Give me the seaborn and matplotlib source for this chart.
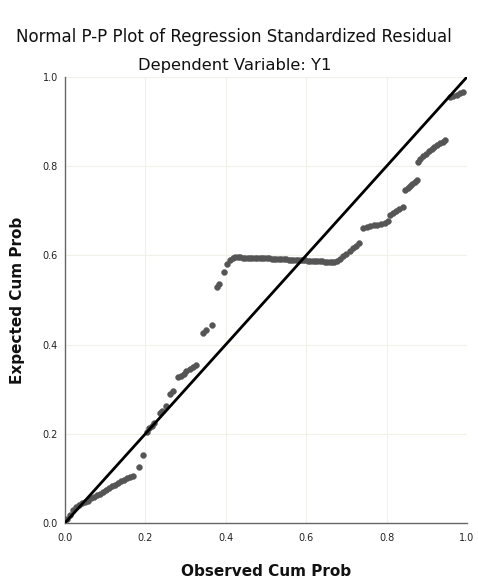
import numpy as np
import pandas as pd
import matplotlib
matplotlib.use("Agg")
import matplotlib.pyplot as plt
import seaborn as sns

# Observed cumulative probability (x) and expected cumulative probability (y)
observed = [
    0.005, 0.012, 0.020, 0.027, 0.035, 0.042, 0.050, 0.057, 0.065, 0.072,
    0.080, 0.087, 0.095, 0.102, 0.110, 0.117, 0.125, 0.132, 0.140, 0.147,
    0.155, 0.162, 0.170,
    0.184, 0.194,
    0.204, 0.210, 0.216, 0.222, 0.236, 0.242, 0.250, 0.261, 0.268, 0.281,
    0.288, 0.295, 0.302, 0.310, 0.318, 0.326, 0.343, 0.350, 0.366, 0.378,
    0.384, 0.396, 0.404, 0.410, 0.418,
    0.424, 0.430, 0.436, 0.442, 0.448, 0.454, 0.460, 0.466, 0.472, 0.478,
    0.484, 0.490, 0.496, 0.502, 0.508, 0.514, 0.520, 0.526, 0.532, 0.538,
    0.544, 0.550, 0.556, 0.562, 0.568, 0.574, 0.580, 0.586, 0.592, 0.598,
    0.604, 0.610, 0.616, 0.622, 0.628, 0.634, 0.640, 0.646, 0.652, 0.658,
    0.664, 0.670, 0.676,
    0.684, 0.692, 0.700, 0.708, 0.716, 0.724, 0.731,
    0.741, 0.750, 0.759, 0.768, 0.777, 0.786, 0.795, 0.803,
    0.808, 0.816, 0.824, 0.832, 0.840,
    0.846, 0.852, 0.858, 0.864, 0.870, 0.876,
    0.878, 0.884, 0.891, 0.898, 0.905, 0.912, 0.919, 0.926, 0.933, 0.940, 0.946,
    0.958, 0.966, 0.974, 0.982, 0.990,
]
expected = [
    0.008, 0.018, 0.030, 0.036, 0.040, 0.044, 0.047, 0.050, 0.055, 0.058,
    0.062, 0.066, 0.070, 0.074, 0.078, 0.082, 0.086, 0.090, 0.093, 0.097,
    0.100, 0.103, 0.105,
    0.126, 0.152,
    0.205, 0.212, 0.218, 0.225, 0.247, 0.252, 0.262, 0.290, 0.296, 0.327,
    0.330, 0.334, 0.340, 0.345, 0.350, 0.355, 0.426, 0.432, 0.444, 0.528,
    0.536, 0.562, 0.580, 0.590, 0.595,
    0.596, 0.596, 0.596, 0.595, 0.595, 0.595, 0.595, 0.594, 0.594, 0.594,
    0.594, 0.593, 0.593, 0.593, 0.593, 0.592, 0.592, 0.592, 0.592, 0.591,
    0.591, 0.591, 0.590, 0.590, 0.590, 0.590, 0.589, 0.589, 0.589, 0.589,
    0.588, 0.588, 0.588, 0.588, 0.587, 0.587, 0.587, 0.586, 0.586, 0.586,
    0.586, 0.586, 0.587,
    0.592, 0.598, 0.604, 0.610, 0.616, 0.622, 0.628,
    0.661, 0.663, 0.665, 0.667, 0.669, 0.671, 0.673, 0.676,
    0.690, 0.694, 0.699, 0.704, 0.708,
    0.746, 0.751, 0.755, 0.760, 0.764, 0.769,
    0.809, 0.816, 0.822, 0.828, 0.834, 0.839, 0.843, 0.847, 0.851, 0.855, 0.859,
    0.955, 0.958, 0.960, 0.963, 0.966,
]
ref_line = [0.0, 1.0]
tick_vals = [0.0, 0.2, 0.4, 0.6, 0.8, 1.0]
tick_labels = ["0.0", "0.2", "0.4", "0.6", "0.8", "1.0"]

df = pd.DataFrame({"observed": observed, "expected": expected})
ref = pd.DataFrame({"x": ref_line, "y": ref_line})

sns.set_theme(style="white")
plt.rcParams["font.family"] = ["DejaVu Sans"]

fig = plt.figure(figsize=(4.78, 5.83), dpi=100)
ax = fig.add_axes([0.136, 0.103, 0.841, 0.765])

for v in tick_vals[1:]:
    ax.axhline(v, color="#f1f1e8", lw=0.8, zorder=0)
    ax.axvline(v, color="#f1f1e8", lw=0.8, zorder=0)

sns.scatterplot(data=df, x="observed", y="expected", ax=ax, s=18,
                color="#555555", edgecolor="#555555", linewidth=0.3, zorder=3)
sns.lineplot(data=ref, x="x", y="y", ax=ax, color="black", lw=2.0, zorder=4)

ax.set_xlim(0, 1)
ax.set_ylim(0, 1)
ax.set_xticks(tick_vals)
ax.set_xticklabels(tick_labels, fontsize=7, color="#222222")
ax.set_yticks(tick_vals)
ax.set_yticklabels(tick_labels, fontsize=7, color="#222222")
ax.tick_params(axis="x", length=0, pad=7)
ax.tick_params(axis="y", length=0, pad=5)

for side in ["top", "right"]:
    ax.spines[side].set_visible(False)
for side in ["left", "bottom"]:
    ax.spines[side].set_color("#666666")
    ax.spines[side].set_linewidth(1.0)

ax.set_xlabel("Observed Cum Prob", fontsize=11, fontweight="bold", labelpad=15,
              color="#111111")
ax.set_ylabel("Expected Cum Prob", fontsize=11, fontweight="bold", labelpad=13,
              color="#111111")

fig.text(0.49, 0.937, "Normal P-P Plot of Regression Standardized Residual",
         ha="center", va="center", fontsize=12, color="#111111")
fig.text(0.49, 0.888, "Dependent Variable: Y1", ha="center", va="center",
         fontsize=11.8, color="#111111")

fig.savefig("out.png", dpi=100, facecolor="white")
